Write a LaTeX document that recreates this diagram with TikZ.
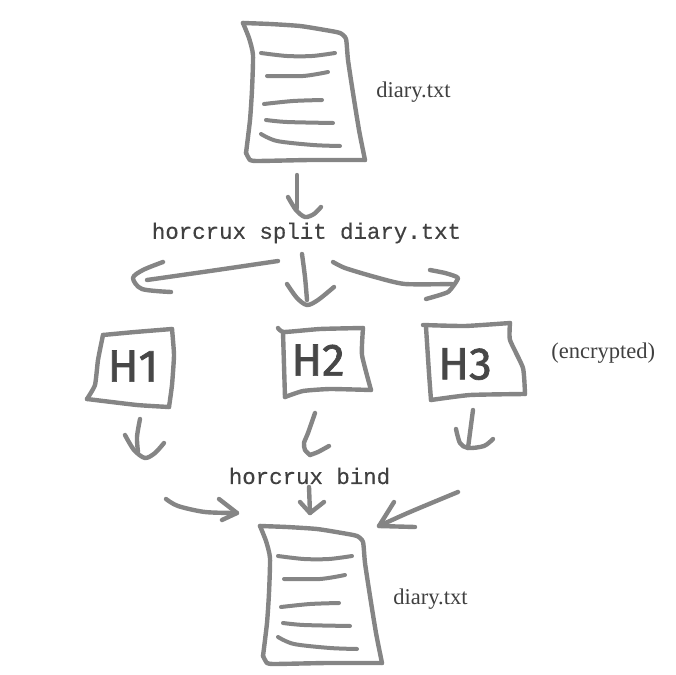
\documentclass[tikz,border=0pt]{standalone}
\usepackage{fontspec}
\setmainfont{Liberation Serif}
\setmonofont[FakeBold=0.35]{Liberation Mono}
\newfontfamily\handfont[FakeBold=1.6]{Fira Sans}
\definecolor{ink}{HTML}{858585}
\definecolor{txt}{HTML}{404040}
\tikzset{
  sketch/.style={draw=ink,line width=3.3pt,line cap=round,line join=round},
  thinstroke/.style={sketch,line width=3pt},
  label/.style={text=txt,inner sep=0pt,font=\fontsize{16.9}{20}\selectfont},
  command/.style={text=txt,inner sep=0pt,font=\ttfamily\fontsize{16.8}{20}\selectfont},
  handmark/.style={text=black!72,inner sep=0pt,font=\handfont\fontsize{34}{38}\selectfont},
  sheet/.pic={
    \draw[sketch] plot[smooth,tension=.35] coordinates {(243,23) (270,24) (300,26) (325,30) (340,33) (346,39) (348,60) (353,93) (359,130) (365,160)};
    \draw[sketch] plot[smooth,tension=.3] coordinates {(365,160) (310,160) (258,161) (250,160) (246,153)};
    \draw[sketch] plot[smooth,tension=.35] coordinates {(243,23) (249,38) (253,55) (252,90) (250,120) (246,153)};
    \draw[thinstroke] plot[smooth] coordinates {(261,53) (287,56) (312,56) (335,53)};
    \draw[thinstroke] plot[smooth] coordinates {(267,76) (303,76) (328,72)};
    \draw[thinstroke] plot[smooth] coordinates {(264,104) (293,101) (322,100)};
    \draw[thinstroke] plot[smooth] coordinates {(266,120) (287,122) (333,123)};
    \draw[thinstroke] plot[smooth] coordinates {(261,134) (277,141) (313,145) (340,146)};
  }
}
\begin{document}
\begin{tikzpicture}[x=0.75pt,y=-0.75pt]
\useasboundingbox (0,0) rectangle (676,675);
\pic at (0,0) {sheet};
\pic at (17,503) {sheet};

% labels
\node[label,anchor=west] (d1) at (376,92) {diary.txt};
\node[label,anchor=west] (d2) at (393,599) {diary.txt};
\node[label,anchor=west] (enc) at (551,353) {(encrypted)};
\node[command] (split) at (306.5,233) {horcrux split diary.txt};
\node[command] (bind) at (309.5,476) {horcrux bind};

% share boxes
\draw[sketch] plot[smooth,tension=.3] coordinates {(103,335) (135,332) (172,329)};
\draw[sketch] plot[smooth,tension=.3] coordinates {(172,329) (174,355) (172,385) (169,407)};
\draw[sketch] plot[smooth,tension=.3] coordinates {(169,407) (137,405) (87,399)};
\draw[sketch] plot[smooth,tension=.3] coordinates {(87,399) (95,385) (98,360) (103,335)};
\draw[sketch] plot[smooth,tension=.3] coordinates {(278,328) (284,332) (320,329) (363,328)};
\draw[sketch] plot[smooth,tension=.3] coordinates {(363,328) (362,355) (371,390)};
\draw[sketch] plot[smooth,tension=.3] coordinates {(371,390) (330,389) (303,391) (285,397)};
\draw[sketch] plot[smooth,tension=.3] coordinates {(285,397) (284,365) (283,332)};
\draw[sketch] plot[smooth,tension=.3] coordinates {(423,325) (465,326) (510,323)};
\draw[sketch] plot[smooth,tension=.3] coordinates {(510,323) (510,340) (523,368) (525,394)};
\draw[sketch] plot[smooth,tension=.3] coordinates {(525,394) (470,395) (431,400)};
\draw[sketch] plot[smooth,tension=.3] coordinates {(431,400) (429,373) (426,327)};
\node[handmark] (h1) at (133,366) {H1};
\node[handmark] (h2) at (318,360) {H2};
\node[handmark] (h3) at (465,364) {H3};

% arrow: first sheet to split
\coordinate (a0s) at (297,175);
\coordinate (a0t) at (305,217);
\draw[sketch] (a0s) -- (297,208);
\draw[sketch] plot[smooth] coordinates {(288,197) (296,210) (a0t) (314,214) (321,207)};

% arrows out of split
\coordinate (a1s) at (278,261);
\coordinate (a1t) at (147,280);
\draw[sketch] plot[smooth] coordinates {(a1s) (217,270) (a1t)};
\draw[sketch] plot[smooth] coordinates {(163,262) (143,270) (133,278) (142,289) (171,292)};
\coordinate (a2s) at (302,254);
\coordinate (a2t) at (307,305);
\draw[sketch] plot[smooth] coordinates {(a2s) (305,277) (307,300)};
\draw[sketch] plot[smooth] coordinates {(287,284) (297,298) (a2t) (318,300) (334,287)};
\coordinate (a3s) at (333,262);
\coordinate (a3t) at (458,278);
\draw[sketch] plot[smooth,tension=.4] coordinates {(a3s) (345,268) (375,277) (405,284) (452,284)};
\draw[sketch] plot[smooth,tension=.3] coordinates {(430,270) (445,273) (a3t) (448,292) (426,299)};

% arrows out of the boxes
\coordinate (b1s) at (140,419);
\coordinate (b1t) at (145,458);
\draw[sketch] plot[smooth] coordinates {(b1s) (137,437) (138,452)};
\draw[sketch] plot[smooth] coordinates {(125,435) (134,450) (b1t) (155,453) (164,443)};
\coordinate (b2s) at (315,413);
\coordinate (b2t) at (310,455);
\draw[sketch] plot[smooth,tension=.4] coordinates {(b2s) (308,433) (304,443) (305,450) (b2t)};
\draw[sketch] plot[smooth,tension=.4] coordinates {(b2t) (318,452) (329,446)};
\coordinate (b3s) at (473,410);
\coordinate (b3t) at (468,448);
\draw[sketch] (b3s) -- (b3t);
\draw[sketch] plot[smooth] coordinates {(456,429) (460,443) (b3t) (484,446) (493,439)};

% arrows into the last sheet
\coordinate (c1s) at (166,499);
\coordinate (c1t) at (237,513);
\draw[sketch] plot[smooth] coordinates {(c1s) (178,506) (205,512) (c1t)};
\draw[sketch] (219,499) -- (c1t) -- (222,520);
\coordinate (c2s) at (309,487);
\coordinate (c2t) at (310,513);
\draw[sketch] (c2s) -- (c2t);
\draw[sketch] (300,502) -- (c2t) -- (324,502);
\coordinate (c3s) at (458,492);
\coordinate (c3t) at (379,526);
\draw[sketch] plot[smooth] coordinates {(c3s) (410,512) (c3t)};
\draw[sketch] (394,502) -- (c3t) -- (415,527);
\end{tikzpicture}
\end{document}
